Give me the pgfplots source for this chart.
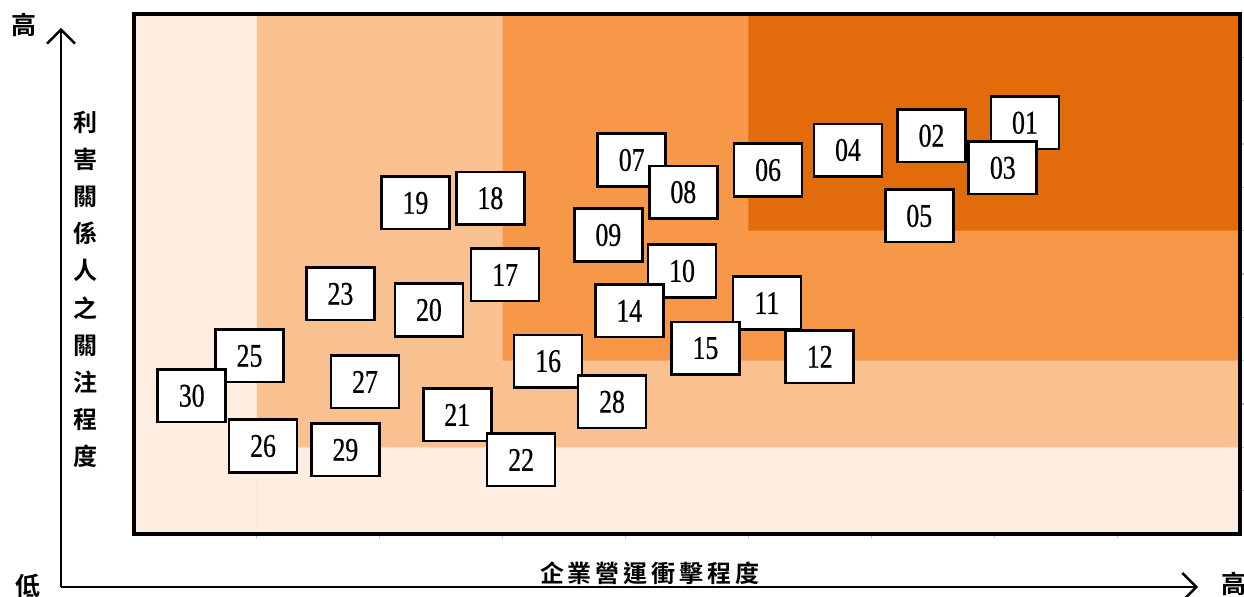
\documentclass[border=0pt]{standalone}
\usepackage{pgfplots}
\usepackage{pgfplotstable}
\pgfplotsset{compat=1.18}
\usepackage{fontspec}
\setmainfont{Liberation Serif}
\newfontfamily\numfont[FakeStretch=0.78, FakeBold=0.6]{Liberation Serif}
\newfontfamily\cjk{Noto Sans CJK TC}[BoldFont={Noto Sans CJK TC Bold}]
\usetikzlibrary{arrows.meta}
\definecolor{z0}{HTML}{FDEEE1}
\definecolor{z1}{HTML}{F9C090}
\definecolor{z2}{HTML}{F79748}
\definecolor{z3}{HTML}{E26B0B}

\pgfplotstableread{
x y label
7.25 9.49 01
6.49 9.19 02
7.07 8.45 03
5.81 8.86 04
6.39 7.34 05
5.16 8.40 06
4.05 8.63 07
4.47 7.89 08
3.86 6.90 09
4.46 6.07 10
5.15 5.33 11
5.58 4.09 12
4.03 5.15 14
4.65 4.29 15
3.37 3.99 16
3.02 5.98 17
2.90 7.75 18
2.29 7.64 19
2.40 5.17 20
2.63 2.75 21
3.15 1.71 22
1.68 5.54 23
0.94 4.11 25
1.05 2.03 26
1.88 3.51 27
3.89 3.05 28
1.72 1.94 29
0.47 3.19 30
}\boxdata

\begin{document}
\begin{tikzpicture}
\useasboundingbox (-67pt,-31pt) rectangle (555pt,267pt);
\begin{axis}[
  scale only axis,
  width=553pt, height=260pt,
  xmin=0, xmax=9, ymin=0, ymax=12,
  axis on top,
  axis line style={line width=1.6pt, black},
  axis background/.style={fill=z0},
  xtick={1,...,8}, ytick={1,...,11},
  xticklabels={}, yticklabels={},
  xtick pos=bottom, ytick pos=right,
  tick align=outside,
  major tick length=2pt,
  tick style={gray!50, line width=0.6pt},
  clip=false,
]
\addplot[fill=z1, draw=none] coordinates {(1,0) (9,0) (9,12) (1,12) (1,0)};
\addplot[fill=z0, draw=none] coordinates {(1,0) (9,0) (9,2) (1,2) (1,0)};
\addplot[fill=z2, draw=none] coordinates {(3,4) (9,4) (9,12) (3,12) (3,4)};
\addplot[fill=z3, draw=none] coordinates {(5,7) (9,7) (9,12) (5,12) (5,7)};
\addplot[only marks, mark=none,
  point meta=explicit symbolic,
  nodes near coords,
  nodes near coords style={anchor=center, draw=black, fill=white,
    line width=1.35pt, rectangle, inner sep=0pt,
    minimum width=34pt, minimum height=26.2pt,
    font=\numfont\fontsize{16.5}{16.5}\selectfont, text=black},
] table[x=x, y=y, meta=label] {\boxdata};
\end{axis}
\draw[line width=1.2pt, -{Straight Barb[length=7pt, width=14pt, line width=1.2pt]}] (-36.5pt,-26.5pt) -- (-36.5pt,253pt);
\draw[line width=1.2pt, -{Straight Barb[length=7pt, width=14pt, line width=1.2pt]}] (-36.5pt,-26.5pt) -- (532pt,-26.5pt);
\node[font=\cjk\bfseries\fontsize{12.5}{12.5}\selectfont] at (-55pt,254.5pt) {高};
\node[font=\cjk\bfseries\fontsize{12.5}{12.5}\selectfont] at (-53pt,-26pt) {低};
\node[font=\cjk\bfseries\fontsize{12.5}{12.5}\selectfont] at (550pt,-25pt) {高};
\node[font=\cjk\bfseries\fontsize{12}{18.6}\selectfont, align=center, inner sep=0pt] at (-24.5pt,122.25pt) {利\\害\\關\\係\\人\\之\\關\\注\\程\\度};
\node[font=\cjk\bfseries\fontsize{12}{12}\selectfont, inner sep=0pt] at (258pt,-19.5pt) {企\hspace{2pt}業\hspace{2pt}營\hspace{2pt}運\hspace{2pt}衝\hspace{2pt}擊\hspace{2pt}程\hspace{2pt}度};
\end{tikzpicture}
\end{document}
